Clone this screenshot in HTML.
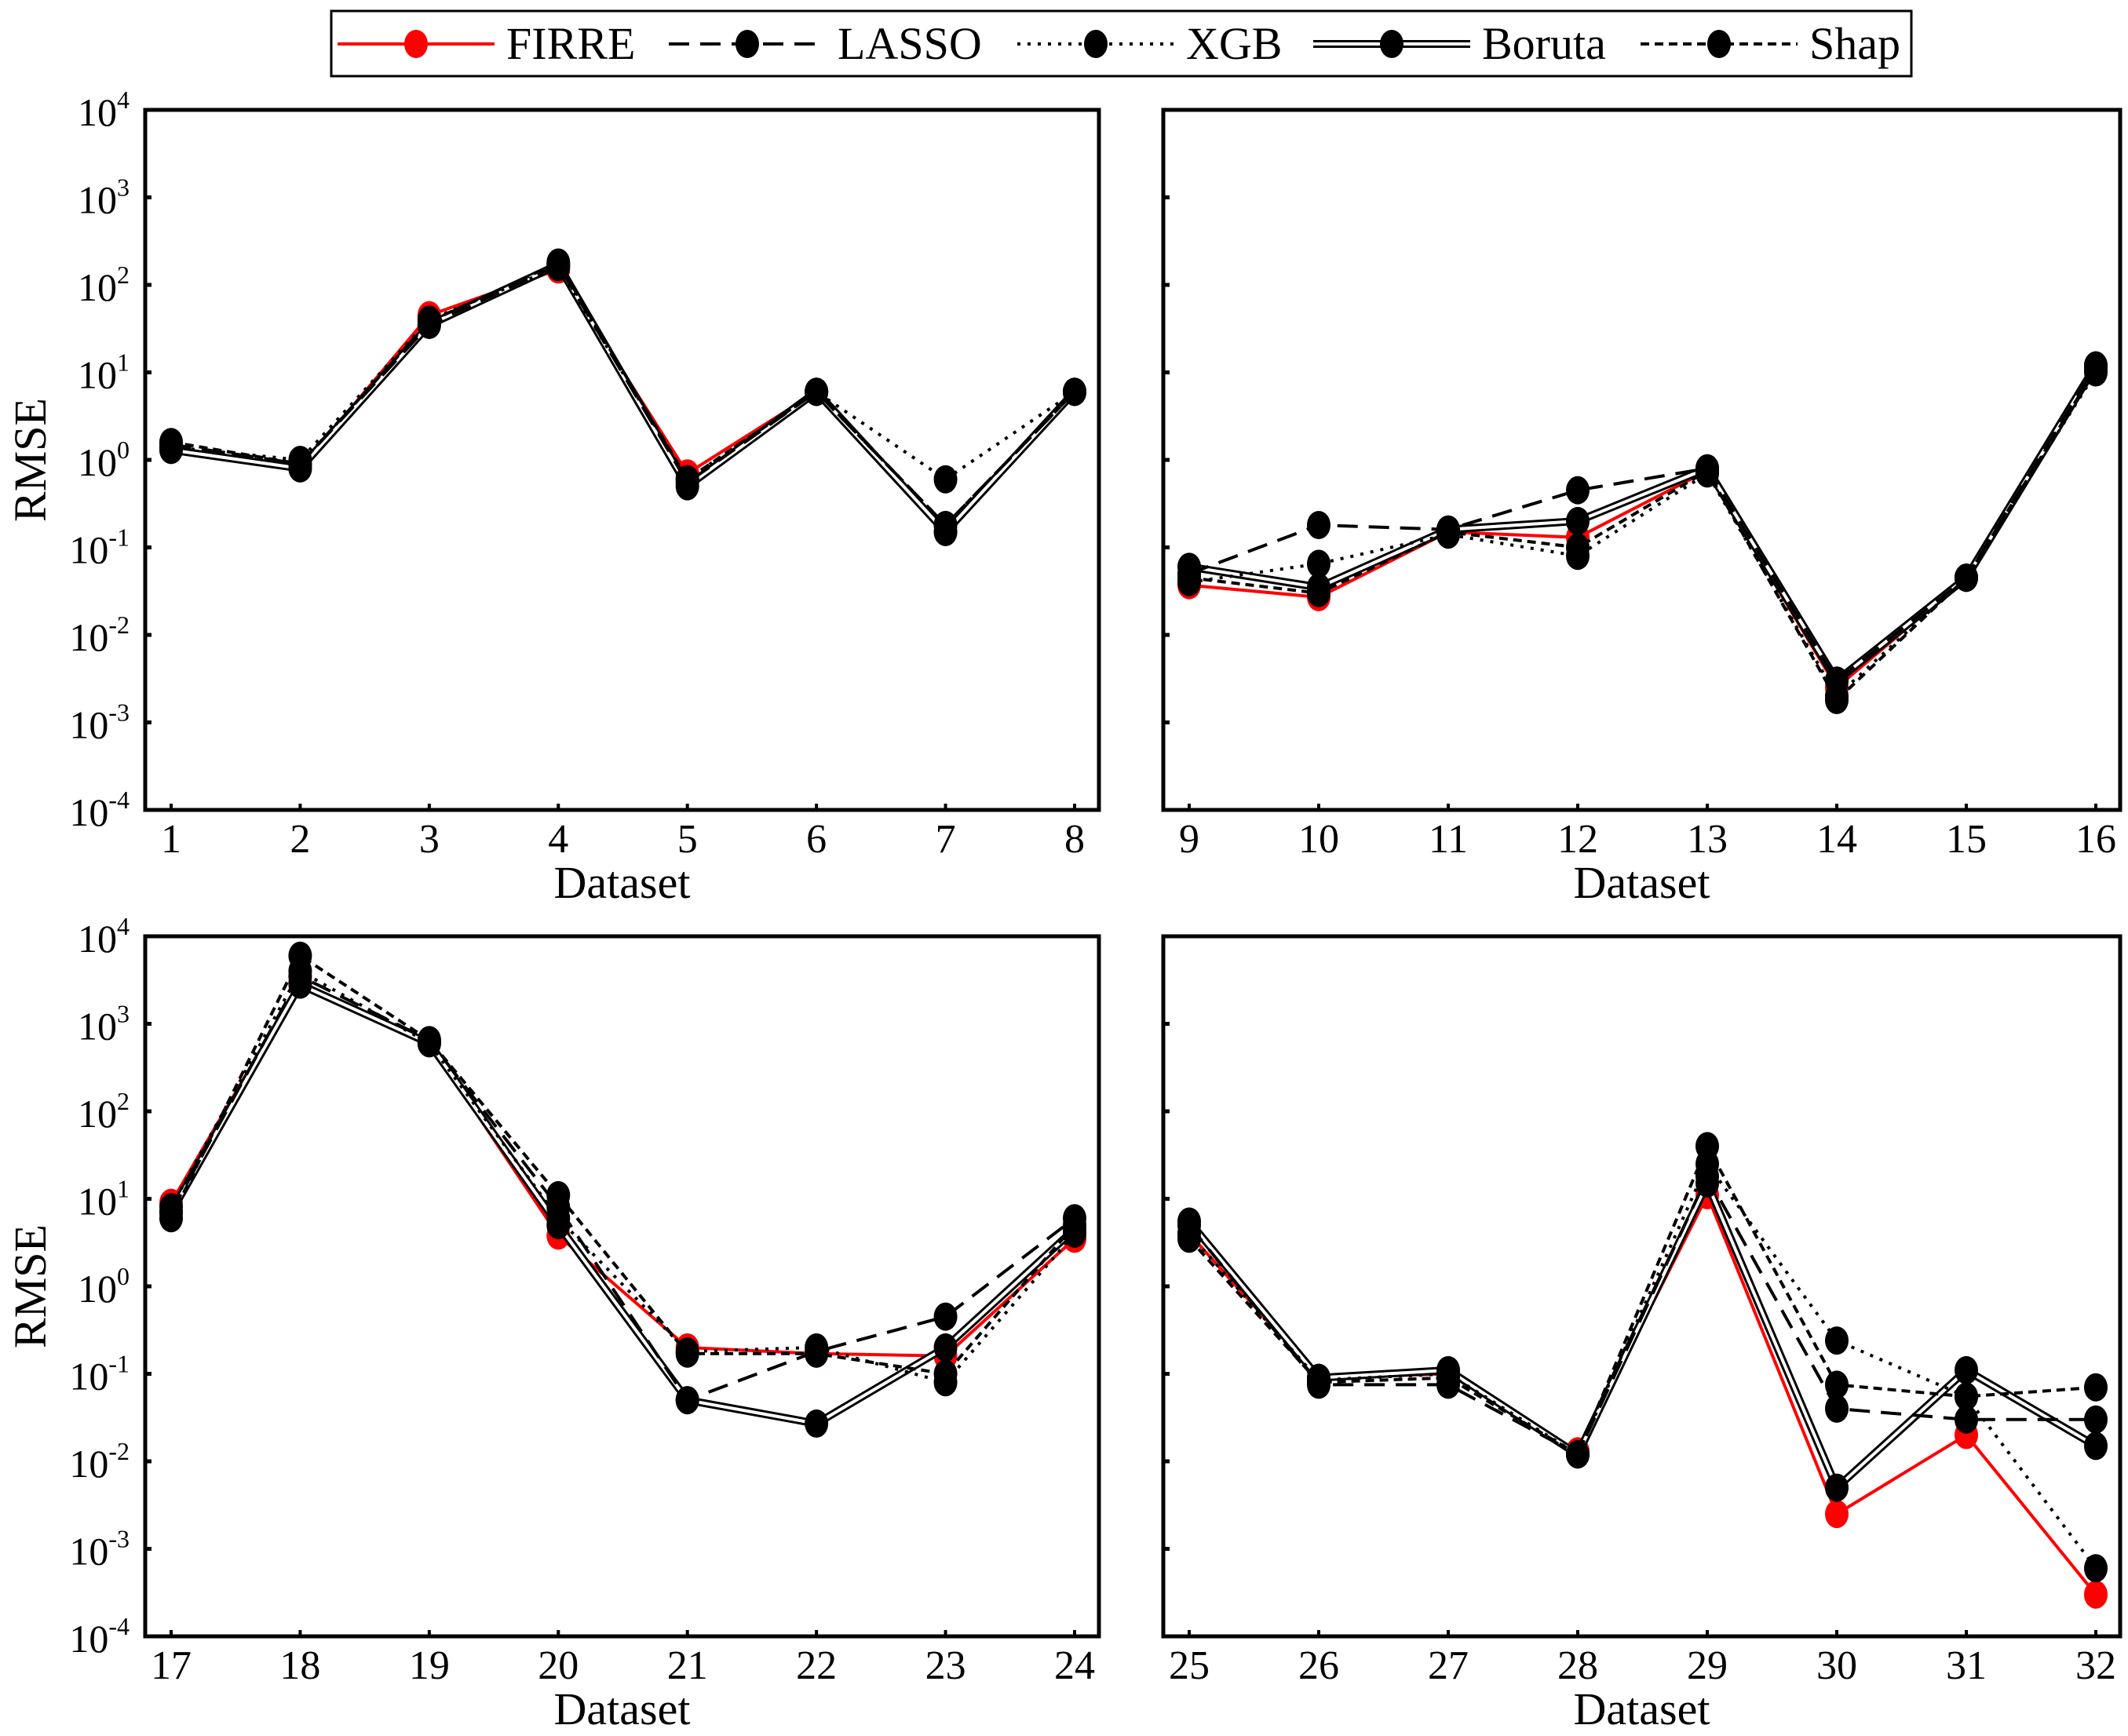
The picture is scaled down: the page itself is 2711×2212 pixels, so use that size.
<!DOCTYPE html>
<html><head><meta charset="utf-8"><style>
body{margin:0;background:#fff}
svg{display:block}
svg text{font-family:"Liberation Serif","Times New Roman",serif}
</style></head><body>
<svg id="c" width="2711" height="2212" viewBox="0 0 2711 2212" font-family="Liberation Serif, serif"></svg>
<script>
const datasets1=[1,2,3,4,5,6,7,8];
const datasets2=[9,10,11,12,13,14,15,16];
const datasets3=[17,18,19,20,21,22,23,24];
const datasets4=[25,26,27,28,29,30,31,32];
const yTickExps=[4,3,2,1,0,-1,-2,-3,-4];
const seriesNames=["FIRRE","LASSO","XGB","Boruta","Shap"];
// panel 1
const firre1=[1.3,0.8,45,150,0.7,6,0.15,6];
const lasso1=[1.5,0.9,35,170,0.55,6,0.18,6];
const xgb1=[1.4,1.0,40,160,0.6,6,0.6,6];
const boruta1=[1.3,0.8,35,170,0.5,6,0.15,6];
const shap1=[1.6,0.9,38,180,0.6,6,0.18,6];
// panel 2
const firre2=[0.037,0.027,0.15,0.13,0.75,0.0025,0.045,11];
const lasso2=[0.05,0.18,0.16,0.45,0.8,0.003,0.045,12];
const xgb2=[0.04,0.065,0.14,0.08,0.7,0.002,0.045,10];
const boruta2=[0.06,0.035,0.16,0.2,0.8,0.003,0.045,12];
const shap2=[0.045,0.03,0.15,0.1,0.75,0.0018,0.045,11];
// panel 3
const firre3=[9,3000,600,3.8,0.2,0.17,0.16,3.5];
const lasso3=[7,3500,650,8,0.05,0.18,0.45,6];
const xgb3=[8,4000,600,6,0.18,0.2,0.08,4];
const boruta3=[7,2800,600,5,0.05,0.027,0.2,4.5];
const shap3=[6,6000,650,11,0.17,0.17,0.1,5];
// panel 4
const firre4=[4,0.09,0.1,0.013,11,0.0025,0.02,0.0003];
const lasso4=[5,0.075,0.075,0.012,18,0.04,0.03,0.03];
const xgb4=[4,0.085,0.1,0.012,25,0.24,0.055,0.0006];
const boruta4=[5.5,0.09,0.11,0.012,15,0.005,0.11,0.015];
const shap4=[3.5,0.08,0.09,0.012,40,0.075,0.055,0.07];

const NS="http://www.w3.org/2000/svg";
const svg=document.getElementById('c');
function mk(tag,attrs,parent){const e=document.createElementNS(NS,tag);for(const k in attrs)e.setAttribute(k,attrs[k]);(parent||svg).appendChild(e);return e;}
const styles={FIRRE:{color:"#f00",dash:"none"},LASSO:{color:"#000",dash:"26,14"},XGB:{color:"#000",dash:"4,9"},Boruta:{color:"#000",dash:"none",dbl:true},Shap:{color:"#000",dash:"11,7"}};

const panels=[
 {x0:185,x1:1400,y0:140,y1:1032,cats:datasets1,vals:[firre1,lasso1,xgb1,boruta1,shap1],labels:true,name:"panel-1-8"},
 {x0:1482,x1:2701,y0:140,y1:1032,cats:datasets2,vals:[firre2,lasso2,xgb2,boruta2,shap2],labels:false,name:"panel-9-16"},
 {x0:185,x1:1400,y0:1193,y1:2085,cats:datasets3,vals:[firre3,lasso3,xgb3,boruta3,shap3],labels:true,name:"panel-17-24"},
 {x0:1482,x1:2701,y0:1193,y1:2085,cats:datasets4,vals:[firre4,lasso4,xgb4,boruta4,shap4],labels:false,name:"panel-25-32"}
];
panels.forEach(p=>{
 const g=mk('g',{});
 
 
 const xFirst=p.x0+33,xLast=p.x1-31;
 const xs=i=>xFirst+(xLast-xFirst)*i/(p.cats.length-1);
 const ys=v=>p.y0+(4-Math.log10(v))*(p.y1-p.y0)/8;
 const ye=e=>p.y0+(4-e)*(p.y1-p.y0)/8;
 yTickExps.forEach(e=>{
  const y=ye(e);
  const t=mk('line',{x1:p.x0,x2:p.x0+8,y1:y,y2:y,stroke:"#000","stroke-width":5},g);
  
  
  if(p.labels){
   const tx=mk('text',{x:p.x0-20,y:y+20,"text-anchor":"end","font-size":50},g);
   
   
   tx.innerHTML='10<tspan dy="-22" font-size="32">'+e+'</tspan>';
  }
 });
 p.cats.forEach((c,i)=>{
  const x=xs(i);
  const t=mk('line',{x1:x,x2:x,y1:p.y1,y2:p.y1-8,stroke:"#000","stroke-width":4},g);
  
  
  const tx=mk('text',{x:x,y:p.y1+54,"text-anchor":"middle","font-size":52},g);
  
  
  tx.textContent=c;
 });
 const xl=mk('text',{x:(p.x0+p.x1)/2,y:p.y1+112,"text-anchor":"middle","font-size":58},g);
 
 
 xl.textContent="Dataset";
 if(p.labels){
  const yl=mk('text',{x:0,y:0,"text-anchor":"middle","font-size":58,transform:`translate(58,${(p.y0+p.y1)/2}) rotate(-90)`},g);
  
  
  yl.textContent="RMSE";
 }
 const order=[0,3,2,1,4];
 order.forEach(si=>{
  const nm=seriesNames[si],st=styles[nm],v=p.vals[si];
  const pts=v.map((d,i)=>xs(i)+","+ys(d)).join(" ");
  const sg=mk('g',{},g);
  
  
  if(st.dbl){
   mk('polyline',{points:pts,fill:"none",stroke:"#000","stroke-width":10},sg);
   mk('polyline',{points:pts,fill:"none",stroke:"#fff","stroke-width":4},sg);
  } else {
   mk('polyline',{points:pts,fill:"none",stroke:st.color,"stroke-width":4,"stroke-dasharray":st.dash},sg);
  }
  v.forEach((d,i)=>{
   const m=mk('ellipse',{cx:xs(i),cy:ys(d),rx:15,ry:18,fill:st.color},sg);
   
   
  });
 });
 const fr=mk('rect',{x:p.x0,y:p.y0,width:p.x1-p.x0,height:p.y1-p.y0,fill:"none",stroke:"#000","stroke-width":5},g);
 
 
});
const lg=mk('g',{});


mk('rect',{x:422,y:14,width:2013,height:83,fill:"#fff",stroke:"#000","stroke-width":3},lg);
const legX=[[430,630,645],[852,1052,1067],[1296,1496,1511],[1673,1873,1888],[2090,2290,2305]];
seriesNames.forEach((nm,i)=>{
 const st=styles[nm],[a,b,tx]=legX[i],y=56;
 const eg=mk('g',{},lg);
 
 
 if(st.dbl){
  mk('line',{x1:a,x2:b,y1:y,y2:y,stroke:"#000","stroke-width":10},eg);
  mk('line',{x1:a,x2:b,y1:y,y2:y,stroke:"#fff","stroke-width":4},eg);
 } else mk('line',{x1:a,x2:b,y1:y,y2:y,stroke:st.color,"stroke-width":4,"stroke-dasharray":st.dash},eg);
 mk('ellipse',{cx:(a+b)/2,cy:y,rx:15,ry:18,fill:st.color},eg);
 const t=mk('text',{x:tx,y:y+19,"font-size":58},eg);
 t.textContent=nm;
});
</script>
</body></html>
